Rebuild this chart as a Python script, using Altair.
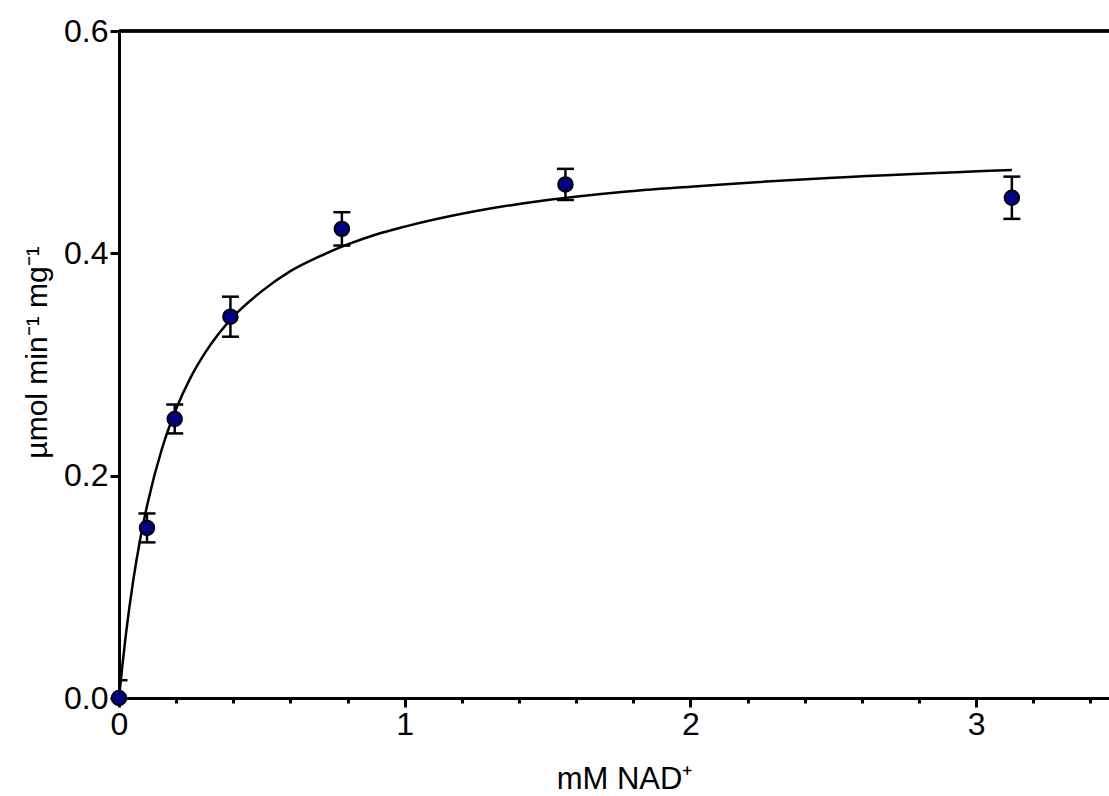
import altair as alt
import pandas as pd

# Measured data (mM NAD+ vs specific activity)
conc = [0.0, 0.098, 0.195, 0.39, 0.78, 1.5625, 3.125]
rate = [0.000, 0.153, 0.251, 0.343, 0.422, 0.462, 0.450]
err = [0.016, 0.013, 0.013, 0.018, 0.015, 0.014, 0.019]

# Fitted curve
curve_x = [0.0, 0.0125, 0.025, 0.05, 0.075, 0.1, 0.15, 0.2, 0.25, 0.3, 0.4, 0.5, 0.6,
           0.7, 0.8, 0.9, 1.0, 1.25, 1.5, 1.75, 2.0, 2.5, 3.125]
curve_y = [0.0, 0.031, 0.059, 0.106, 0.144, 0.175, 0.224, 0.260, 0.288, 0.310, 0.343,
           0.366, 0.384, 0.397, 0.408, 0.417, 0.424, 0.438, 0.448, 0.455, 0.460, 0.468, 0.475]

x_ticks = [0, 0.2, 0.4, 0.6, 0.8, 1, 1.2, 1.4, 1.6, 1.8, 2, 2.2, 2.4, 2.6, 2.8, 3, 3.2, 3.4]
y_ticks = [0, 0.2, 0.4, 0.6]

pts = pd.DataFrame({"x": conc, "y": rate,
                    "lo": [r - e for r, e in zip(rate, err)],
                    "hi": [r + e for r, e in zip(rate, err)]})
fit = pd.DataFrame({"x": curve_x, "y": curve_y})

FONT = "Liberation Sans"
is_int = "abs(datum.value - round(datum.value)) < 0.001"

xscale = alt.Scale(domain=[0, 3.465], nice=False, zero=False)
yscale = alt.Scale(domain=[0, 0.6], nice=False)

xaxis = alt.Axis(
    values=x_ticks, title="mM NAD⁺", grid=False, labelFlush=False,
    labelExpr=f"{is_int} ? format(datum.value, 'd') : ''",
    tickSize={"condition": {"test": is_int, "value": 9}, "value": 5},
    tickWidth=3, domainWidth=3, domainColor="black", tickColor="black",
    labelFont=FONT, labelFontSize=32, labelColor="black", labelPadding=2,
    titleFont=FONT, titleFontSize=31, titleFontWeight="normal", titleColor="black",
    titleBaseline="alphabetic", titleY=90, titleX=505,
)
yaxis = alt.Axis(
    values=y_ticks, format=".1f", title="µmol min⁻¹ mg⁻¹", grid=False, labelFlush=False,
    tickSize=9, tickWidth=3, domainWidth=3, domainColor="black", tickColor="black",
    labelFont=FONT, labelFontSize=32, labelColor="black", labelPadding=2,
    titleFont=FONT, titleFontSize=30, titleFontWeight="normal", titleColor="black",
    titleBaseline="alphabetic", titleX=-73, titleY=321,
)

base_x = alt.X("x:Q", scale=xscale, axis=xaxis)

top_line = alt.Chart(pts).mark_rule(color="black", strokeWidth=2.5).encode(
    y=alt.datum(0.6, scale=yscale, axis=yaxis)
)

line = alt.Chart(fit).mark_line(color="black", strokeWidth=2.5, interpolate="monotone").encode(
    x=base_x, y=alt.Y("y:Q", scale=yscale, axis=yaxis)
)

bars = alt.Chart(pts).mark_rule(color="black", strokeWidth=2.5, opacity=1, clip=True).encode(
    x=alt.X("x:Q", scale=xscale), y=alt.Y("lo:Q", scale=yscale), y2="hi:Q"
)
cap_hi = alt.Chart(pts).mark_tick(color="black", orient="horizontal", size=17,
                                  thickness=2.5, opacity=1, clip=True).encode(
    x=alt.X("x:Q", scale=xscale), y=alt.Y("hi:Q", scale=yscale)
)
cap_lo = alt.Chart(pts).mark_tick(color="black", orient="horizontal", size=17,
                                  thickness=2.5, opacity=1, clip=True).encode(
    x=alt.X("x:Q", scale=xscale), y=alt.Y("lo:Q", scale=yscale)
)
points = alt.Chart(pts).mark_point(shape="circle", filled=True, size=210,
                                   fill="#00008B", stroke="black", strokeWidth=2,
                                   opacity=1).encode(
    x=alt.X("x:Q", scale=xscale), y=alt.Y("y:Q", scale=yscale)
)

chart = alt.layer(top_line, line, bars, cap_hi, cap_lo, points).properties(
    width=990, height=667,
    autosize=alt.AutoSizeParams(type="none"),
    padding={"left": 119, "top": 31, "right": 0, "bottom": 98},
    background="white",
).configure_view(stroke=None)

chart.save("out.html", embed_options={"renderer": "svg", "actions": False})
